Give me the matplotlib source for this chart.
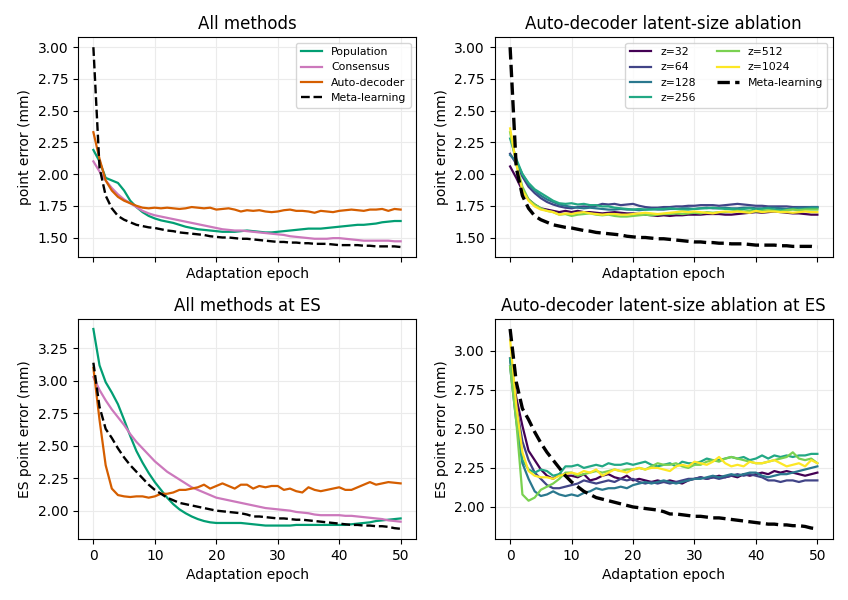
import matplotlib
matplotlib.use('Agg')
import matplotlib.pyplot as plt
from matplotlib.ticker import MultipleLocator

epochs = list(range(51))

# point error, all methods
population = [2.19, 2.10, 1.97, 1.95, 1.93, 1.87, 1.79, 1.74, 1.70, 1.67, 1.65, 1.635, 1.625, 1.615, 1.60, 1.585, 1.575,
              1.565, 1.56, 1.555, 1.55, 1.545, 1.545, 1.545, 1.55, 1.555, 1.55, 1.545, 1.54, 1.54, 1.545, 1.55, 1.555,
              1.56, 1.565, 1.57, 1.57, 1.57, 1.575, 1.58, 1.585, 1.59, 1.595, 1.60, 1.60, 1.605, 1.61, 1.62, 1.625,
              1.63, 1.63]
consensus = [2.10, 2.02, 1.95, 1.89, 1.84, 1.80, 1.77, 1.74, 1.71, 1.69, 1.675, 1.665, 1.655, 1.645, 1.635, 1.625, 1.615,
             1.605, 1.595, 1.585, 1.575, 1.565, 1.56, 1.555, 1.555, 1.55, 1.545, 1.54, 1.535, 1.53, 1.525, 1.52, 1.51,
             1.505, 1.50, 1.495, 1.49, 1.49, 1.49, 1.495, 1.495, 1.49, 1.485, 1.48, 1.475, 1.475, 1.475, 1.475, 1.475,
             1.47, 1.47]
autodecoder = [2.33, 2.12, 1.95, 1.87, 1.82, 1.79, 1.77, 1.75, 1.735, 1.73, 1.735, 1.73, 1.735, 1.73, 1.725, 1.73, 1.74,
               1.735, 1.73, 1.735, 1.72, 1.725, 1.73, 1.72, 1.705, 1.715, 1.71, 1.715, 1.705, 1.70, 1.705, 1.715, 1.72,
               1.71, 1.71, 1.705, 1.695, 1.71, 1.705, 1.70, 1.71, 1.715, 1.72, 1.715, 1.71, 1.72, 1.72, 1.725, 1.71,
               1.725, 1.72]
meta = [3.00, 2.05, 1.83, 1.73, 1.67, 1.64, 1.62, 1.60, 1.59, 1.58, 1.575, 1.565, 1.555, 1.55, 1.54, 1.535, 1.53, 1.525,
        1.52, 1.51, 1.505, 1.50, 1.50, 1.495, 1.49, 1.49, 1.485, 1.48, 1.475, 1.47, 1.465, 1.465, 1.46, 1.46, 1.455,
        1.455, 1.45, 1.45, 1.45, 1.445, 1.44, 1.44, 1.44, 1.44, 1.435, 1.435, 1.43, 1.43, 1.43, 1.43, 1.425]

# ES point error, all methods
population_es = [3.40, 3.12, 2.99, 2.91, 2.82, 2.70, 2.575, 2.46, 2.37, 2.29, 2.22, 2.16, 2.10, 2.05, 2.01, 1.98, 1.955,
                 1.935, 1.92, 1.91, 1.905, 1.905, 1.905, 1.905, 1.905, 1.90, 1.895, 1.89, 1.885, 1.885, 1.885, 1.885,
                 1.885, 1.89, 1.89, 1.89, 1.89, 1.89, 1.89, 1.89, 1.89, 1.89, 1.895, 1.90, 1.905, 1.91, 1.92, 1.925,
                 1.93, 1.935, 1.94]
consensus_es = [3.03, 2.93, 2.85, 2.78, 2.72, 2.66, 2.59, 2.53, 2.48, 2.43, 2.38, 2.34, 2.30, 2.27, 2.24, 2.21, 2.18,
                2.16, 2.14, 2.12, 2.10, 2.09, 2.08, 2.07, 2.06, 2.05, 2.04, 2.03, 2.02, 2.015, 2.01, 2.005, 2.00, 1.99,
                1.985, 1.98, 1.97, 1.965, 1.965, 1.965, 1.965, 1.96, 1.96, 1.955, 1.95, 1.945, 1.94, 1.935, 1.925, 1.92,
                1.915]
autodecoder_es = [3.10, 2.70, 2.35, 2.17, 2.12, 2.11, 2.105, 2.11, 2.11, 2.10, 2.11, 2.13, 2.13, 2.14, 2.16, 2.16, 2.17,
                  2.18, 2.20, 2.17, 2.19, 2.21, 2.19, 2.17, 2.20, 2.20, 2.17, 2.19, 2.18, 2.19, 2.19, 2.16, 2.17, 2.15,
                  2.14, 2.18, 2.16, 2.15, 2.16, 2.17, 2.18, 2.16, 2.16, 2.18, 2.20, 2.22, 2.20, 2.21, 2.22, 2.215, 2.21]
meta_es = [3.14, 2.80, 2.63, 2.56, 2.48, 2.41, 2.35, 2.30, 2.25, 2.20, 2.16, 2.13, 2.10, 2.08, 2.06, 2.05, 2.04, 2.03,
           2.02, 2.01, 2.00, 1.995, 1.99, 1.985, 1.98, 1.97, 1.955, 1.955, 1.95, 1.945, 1.94, 1.94, 1.935, 1.93, 1.93,
           1.925, 1.92, 1.915, 1.91, 1.905, 1.90, 1.895, 1.89, 1.89, 1.885, 1.885, 1.88, 1.88, 1.875, 1.865, 1.86]

# auto-decoder latent size ablation, point error
z_labels = ['z=32', 'z=64', 'z=128', 'z=256', 'z=512', 'z=1024']
z32 = [2.06, 1.97, 1.87, 1.80, 1.76, 1.73, 1.72, 1.71, 1.70, 1.71, 1.70, 1.71, 1.70, 1.70, 1.695, 1.69, 1.695, 1.70,
       1.695, 1.69, 1.69, 1.685, 1.68, 1.675, 1.67, 1.675, 1.67, 1.675, 1.675, 1.68, 1.68, 1.68, 1.685, 1.685, 1.685,
       1.68, 1.68, 1.685, 1.69, 1.695, 1.70, 1.695, 1.70, 1.705, 1.70, 1.695, 1.69, 1.69, 1.685, 1.68, 1.68]
z64 = [2.16, 2.08, 1.98, 1.90, 1.85, 1.81, 1.78, 1.76, 1.745, 1.735, 1.73, 1.74, 1.745, 1.74, 1.75, 1.765, 1.76, 1.765,
       1.755, 1.76, 1.765, 1.75, 1.74, 1.735, 1.735, 1.74, 1.74, 1.745, 1.745, 1.75, 1.75, 1.755, 1.755, 1.755, 1.75,
       1.755, 1.76, 1.765, 1.76, 1.755, 1.75, 1.75, 1.745, 1.745, 1.745, 1.745, 1.74, 1.74, 1.74, 1.74, 1.74]
z128 = [2.15, 2.10, 2.00, 1.92, 1.87, 1.83, 1.80, 1.78, 1.76, 1.75, 1.74, 1.735, 1.73, 1.735, 1.73, 1.725, 1.72, 1.72,
        1.725, 1.72, 1.72, 1.715, 1.72, 1.725, 1.72, 1.72, 1.725, 1.725, 1.73, 1.73, 1.725, 1.73, 1.735, 1.73, 1.73,
        1.735, 1.73, 1.73, 1.735, 1.735, 1.73, 1.73, 1.735, 1.735, 1.73, 1.725, 1.73, 1.735, 1.735, 1.74, 1.74]
z256 = [2.28, 2.12, 2.00, 1.93, 1.88, 1.85, 1.82, 1.79, 1.77, 1.765, 1.77, 1.76, 1.765, 1.755, 1.755, 1.745, 1.745,
        1.735, 1.73, 1.725, 1.72, 1.725, 1.72, 1.72, 1.725, 1.725, 1.73, 1.725, 1.72, 1.72, 1.725, 1.73, 1.73, 1.735,
        1.73, 1.725, 1.725, 1.72, 1.725, 1.73, 1.72, 1.725, 1.73, 1.72, 1.715, 1.72, 1.725, 1.72, 1.725, 1.73, 1.73]
z512 = [2.33, 2.08, 1.90, 1.80, 1.76, 1.73, 1.71, 1.70, 1.68, 1.685, 1.67, 1.68, 1.685, 1.69, 1.68, 1.675, 1.68, 1.67,
        1.665, 1.665, 1.67, 1.675, 1.68, 1.675, 1.68, 1.685, 1.685, 1.69, 1.685, 1.69, 1.695, 1.69, 1.70, 1.695, 1.70,
        1.70, 1.705, 1.71, 1.705, 1.71, 1.705, 1.71, 1.715, 1.71, 1.705, 1.715, 1.72, 1.715, 1.72, 1.72, 1.72]
z1024 = [2.36, 2.08, 1.87, 1.79, 1.745, 1.72, 1.71, 1.70, 1.68, 1.69, 1.685, 1.695, 1.70, 1.69, 1.685, 1.68, 1.685,
         1.685, 1.68, 1.68, 1.685, 1.69, 1.695, 1.69, 1.685, 1.69, 1.695, 1.70, 1.705, 1.70, 1.705, 1.70, 1.695, 1.69,
         1.70, 1.705, 1.70, 1.705, 1.70, 1.695, 1.71, 1.70, 1.705, 1.705, 1.70, 1.70, 1.695, 1.70, 1.705, 1.70, 1.70]

# auto-decoder latent size ablation, ES point error
z32_es = [2.95, 2.70, 2.52, 2.36, 2.30, 2.24, 2.20, 2.18, 2.21, 2.20, 2.20, 2.19, 2.21, 2.17, 2.18, 2.20, 2.21, 2.19,
          2.18, 2.20, 2.17, 2.18, 2.17, 2.16, 2.17, 2.16, 2.17, 2.16, 2.15, 2.17, 2.18, 2.19, 2.18, 2.19, 2.20, 2.19,
          2.20, 2.19, 2.21, 2.20, 2.21, 2.22, 2.21, 2.23, 2.22, 2.23, 2.22, 2.21, 2.20, 2.21, 2.22]
z64_es = [2.95, 2.65, 2.42, 2.30, 2.22, 2.18, 2.14, 2.12, 2.12, 2.13, 2.14, 2.15, 2.17, 2.16, 2.15, 2.16, 2.17, 2.16,
          2.18, 2.17, 2.18, 2.16, 2.15, 2.16, 2.15, 2.16, 2.15, 2.16, 2.17, 2.18, 2.18, 2.19, 2.18, 2.19, 2.18, 2.19,
          2.20, 2.21, 2.20, 2.21, 2.20, 2.19, 2.17, 2.17, 2.16, 2.17, 2.17, 2.16, 2.17, 2.17, 2.17]
z128_es = [2.90, 2.55, 2.28, 2.18, 2.10, 2.07, 2.08, 2.10, 2.08, 2.07, 2.08, 2.07, 2.09, 2.10, 2.12, 2.11, 2.12, 2.12,
           2.13, 2.12, 2.14, 2.15, 2.16, 2.15, 2.16, 2.17, 2.16, 2.15, 2.16, 2.17, 2.18, 2.18, 2.19, 2.20, 2.19, 2.20,
           2.21, 2.20, 2.21, 2.22, 2.22, 2.20, 2.19, 2.20, 2.21, 2.21, 2.22, 2.23, 2.24, 2.25, 2.26]
z256_es = [2.95, 2.60, 2.30, 2.24, 2.22, 2.24, 2.23, 2.20, 2.21, 2.26, 2.26, 2.27, 2.25, 2.26, 2.27, 2.26, 2.28, 2.27,
           2.27, 2.28, 2.27, 2.28, 2.29, 2.27, 2.26, 2.27, 2.28, 2.26, 2.29, 2.28, 2.28, 2.29, 2.31, 2.30, 2.30, 2.31,
           2.32, 2.31, 2.32, 2.30, 2.31, 2.33, 2.31, 2.33, 2.32, 2.33, 2.32, 2.33, 2.33, 2.34, 2.34]
z512_es = [2.90, 2.55, 2.08, 2.04, 2.06, 2.11, 2.13, 2.15, 2.18, 2.22, 2.22, 2.20, 2.21, 2.22, 2.23, 2.22, 2.23, 2.24,
           2.23, 2.24, 2.24, 2.25, 2.24, 2.26, 2.28, 2.27, 2.27, 2.28, 2.26, 2.25, 2.27, 2.27, 2.29, 2.30, 2.29, 2.31,
           2.32, 2.31, 2.30, 2.29, 2.28, 2.28, 2.29, 2.30, 2.31, 2.32, 2.35, 2.31, 2.30, 2.31, 2.28]
z1024_es = [3.07, 2.65, 2.35, 2.23, 2.20, 2.19, 2.19, 2.18, 2.20, 2.21, 2.22, 2.21, 2.23, 2.22, 2.24, 2.20, 2.22, 2.24,
            2.23, 2.22, 2.24, 2.25, 2.24, 2.25, 2.25, 2.24, 2.23, 2.26, 2.27, 2.26, 2.29, 2.28, 2.27, 2.29, 2.32, 2.28,
            2.26, 2.27, 2.26, 2.29, 2.28, 2.28, 2.29, 2.30, 2.28, 2.26, 2.27, 2.28, 2.26, 2.30, 2.28]

z_curves = [z32, z64, z128, z256, z512, z1024]
z_curves_es = [z32_es, z64_es, z128_es, z256_es, z512_es, z1024_es]
z_colors = ['#440154', '#414487', '#2a788e', '#22a884', '#7ad151', '#fde725']

fig, axs = plt.subplots(2, 2, figsize=(8.48, 6), dpi=100, sharex=True)
plt.subplots_adjust(left=0.092, right=0.982, top=0.938, bottom=0.102, wspace=0.233, hspace=0.282)

lw = 1.6
ax = axs[0, 0]
ax.plot(epochs, population, color='#029e73', lw=lw, label='Population')
ax.plot(epochs, consensus, color='#cc78bc', lw=lw, label='Consensus')
ax.plot(epochs, autodecoder, color='#d55e00', lw=lw, label='Auto-decoder')
ax.plot(epochs, meta, 'k--', lw=1.7, label='Meta-learning')
ax.set_title('All methods', fontsize=12)
ax.set_ylabel('point error (mm)', fontsize=10)
ax.legend(loc='upper right', fontsize=7.8)

ax = axs[1, 0]
ax.plot(epochs, population_es, color='#029e73', lw=lw)
ax.plot(epochs, consensus_es, color='#cc78bc', lw=lw)
ax.plot(epochs, autodecoder_es, color='#d55e00', lw=lw)
ax.plot(epochs, meta_es, 'k--', lw=1.7)
ax.set_title('All methods at ES', fontsize=12)
ax.set_ylabel('ES point error (mm)', fontsize=10)

ax = axs[0, 1]
for vals, lab, c in zip(z_curves, z_labels, z_colors):
    ax.plot(epochs, vals, color=c, lw=lw, label=lab)
ax.plot(epochs, meta, 'k--', lw=2.4, label='Meta-learning')
ax.set_title('Auto-decoder latent-size ablation', fontsize=12)
ax.set_ylabel('point error (mm)', fontsize=10)
ax.legend(loc='upper right', ncol=2, fontsize=7.8)

ax = axs[1, 1]
for vals, c in zip(z_curves_es, z_colors):
    ax.plot(epochs, vals, color=c, lw=lw)
ax.plot(epochs, meta_es, 'k--', lw=2.4)
ax.set_title('Auto-decoder latent-size ablation at ES', fontsize=12)
ax.set_ylabel('ES point error (mm)', fontsize=10)

for ax in axs.flat:
    ax.set_xlabel('Adaptation epoch', fontsize=10)
    ax.grid(True, color='#ebebeb', lw=0.8)
    ax.set_axisbelow(True)
    ax.tick_params(labelsize=10)
    ax.set_xticks([0, 10, 20, 30, 40, 50])
    ax.yaxis.set_major_locator(MultipleLocator(0.25))
    ax.yaxis.set_major_formatter('{x:.2f}')

plt.savefig('out.png')
